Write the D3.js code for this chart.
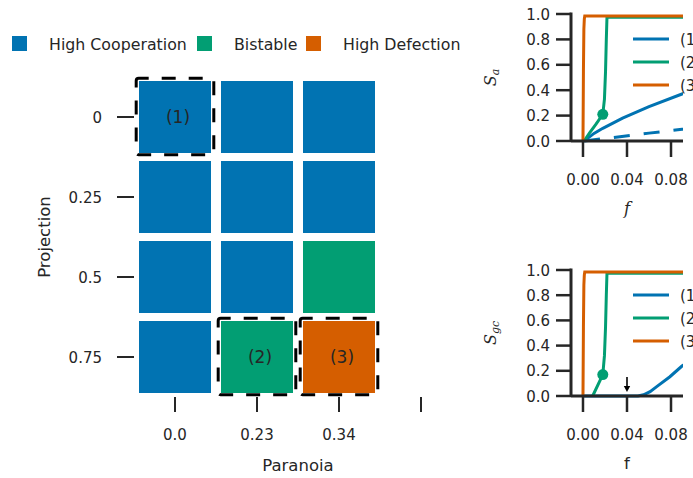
<!DOCTYPE html>
<html>
<head>
<meta charset="utf-8">
<script src="https://cdn.jsdelivr.net/npm/d3@7"></script>
<style>
  body { margin: 0; background: #fff; overflow: hidden; }
  svg { font-family: 'DejaVu Sans', sans-serif; display: block; }
  text { fill: #262626; }
</style>
</head>
<body>
<svg id="chart" width="693" height="478"></svg>
<script>
const paranoia = ['0.0', '0.23', '0.34', ''];
const projection = ['0', '0.25', '0.5', '0.75'];
const regimes = ['High Cooperation', 'Bistable', 'High Defection'];
const colors = ['#0173b2', '#029e73', '#d55e00'];

// regime index per cell, rows = projection, cols = paranoia
const grid = [
  [0, 0, 0],
  [0, 0, 0],
  [0, 0, 1],
  [0, 1, 2],
];
const marked = [
  { row: 0, col: 0, label: '(1)' },
  { row: 3, col: 1, label: '(2)' },
  { row: 3, col: 2, label: '(3)' },
];

// f sweeps for the three marked cells
const fOrange = [0, 0.0004, 0.0008, 0.0012, 0.0016, 0.1];
const saOrange = [0, 0.55, 0.88, 0.96, 0.984, 0.984];
const fGreenA = [0.001, 0.006, 0.012, 0.018, 0.0195, 0.0205, 0.0212, 0.0218, 0.1];
const saGreen = [0, 0.065, 0.135, 0.21, 0.33, 0.55, 0.8, 0.975, 0.975];
const fBlueA = [0.001, 0.01, 0.018, 0.036, 0.06, 0.09, 0.1];
const saBlue = [0, 0.06, 0.1, 0.18, 0.27, 0.37, 0.4];
const fBlueDash = [0.001, 0.03, 0.06, 0.09, 0.1];
const saBlueDash = [0, 0.03, 0.062, 0.092, 0.1];
const dotA = { f: 0.018, s: 0.21 };

const fGreenG = [0.0088, 0.018, 0.0195, 0.0205, 0.0212, 0.0218, 0.1];
const sgcGreen = [0, 0.17, 0.32, 0.55, 0.8, 0.975, 0.975];
const fBlueG = [0.001, 0.05, 0.055, 0.061, 0.067, 0.079, 0.09, 0.1];
const sgcBlue = [0, 0, 0.01, 0.034, 0.074, 0.153, 0.238, 0.3];
const dotG = { f: 0.018, s: 0.17 };
const arrowF = 0.04;

const fTicks = [0, 0.04, 0.08];
const sTicks = [0, 0.2, 0.4, 0.6, 0.8, 1.0];
const curveLabels = ['(1)', '(2)', '(3)'];

const svg = d3.select('#chart');
const ink = '#262626';

// ---- legend on top ----
const legendX = [12, 197, 306];
const lg = svg.append('g').selectAll('g').data(regimes).enter().append('g')
  .attr('transform', (d, i) => `translate(${legendX[i]},36)`);
lg.append('rect').attr('width', 15).attr('height', 15).attr('fill', (d, i) => colors[i]);
lg.append('text').attr('x', 37).attr('y', 14).style('font-size', '15.8px').text(d => d);

// ---- heatmap ----
const x = d3.scaleBand().domain(paranoia).range([134, 462]);
const y = d3.scaleBand().domain(projection).range([77, 397]);
const cell = 72;
const cx = i => x(paranoia[i]) + x.bandwidth() / 2;
const cy = j => y(projection[j]) + y.bandwidth() / 2;

// dashed frames go under the cells, like in the original
svg.append('g').selectAll('rect').data(marked).enter().append('rect')
  .attr('x', d => cx(d.col) - cell / 2 - 2.8)
  .attr('y', d => cy(d.row) - cell / 2 - 2.8)
  .attr('width', cell + 5.6).attr('height', cell + 4.6)
  .attr('rx', 2.5)
  .attr('fill', 'none').attr('stroke', '#000').attr('stroke-width', 3)
  .attr('stroke-dasharray', '14,13').attr('stroke-dashoffset', 4);

const cells = [];
grid.forEach((row, j) => row.forEach((v, i) => cells.push({ i, j, v })));
svg.append('g').selectAll('rect').data(cells).enter().append('rect')
  .attr('x', d => cx(d.i) - cell / 2)
  .attr('y', d => cy(d.j) - cell / 2)
  .attr('width', cell).attr('height', cell)
  .attr('fill', d => colors[d.v]);

svg.append('g').selectAll('text').data(marked).enter().append('text')
  .attr('x', d => cx(d.col) + 3).attr('y', d => cy(d.row) + 6)
  .attr('text-anchor', 'middle').style('font-size', '17px')
  .text(d => d.label);

const xt = svg.append('g').selectAll('g').data(paranoia).enter().append('g');
xt.append('line')
  .attr('x1', (d, i) => cx(i)).attr('x2', (d, i) => cx(i))
  .attr('y1', 397).attr('y2', 412).attr('stroke', ink).attr('stroke-width', 2);
xt.append('text').attr('x', (d, i) => cx(i)).attr('y', 440)
  .attr('text-anchor', 'middle').style('font-size', '15px').text(d => d);

const yt = svg.append('g').selectAll('g').data(projection).enter().append('g');
yt.append('line')
  .attr('x1', 117).attr('x2', 134)
  .attr('y1', (d, j) => cy(j)).attr('y2', (d, j) => cy(j))
  .attr('stroke', ink).attr('stroke-width', 2);
yt.append('text').attr('x', 102).attr('y', (d, j) => cy(j) + 5.5)
  .attr('text-anchor', 'end').style('font-size', '15px').text(d => d);

svg.append('text').attr('x', 298).attr('y', 471).attr('text-anchor', 'middle')
  .style('font-size', '16.5px').text('Paranoia');
svg.append('text').attr('transform', 'translate(50,237) rotate(-90)')
  .attr('text-anchor', 'middle').style('font-size', '16.5px').text('Projection');

// ---- right line panels ----
function panel(top, bottom, series, dot, sub, xlabelItalic, arrow) {
  const g = svg.append('g');
  const fx = d3.scaleLinear().domain([-0.0109, 0.0909]).range([571, 683]);
  const sy = d3.scaleLinear().domain([0, 1]).range([bottom, top]);

  const clipId = 'clip' + top;
  g.append('clipPath').attr('id', clipId).append('rect')
    .attr('x', 571).attr('y', top - 10).attr('width', 112).attr('height', bottom - top + 20);

  const line = d3.line().x(d => fx(d[0])).y(d => sy(d[1]));
  const plot = g.append('g').attr('clip-path', `url(#${clipId})`);
  series.forEach(s => {
    plot.append('path')
      .attr('d', line(s.f.map((v, k) => [v, s.s[k]])))
      .attr('fill', 'none').attr('stroke', s.c).attr('stroke-width', 3)
      .attr('stroke-dasharray', s.dash || null);
  });
  plot.append('circle').attr('cx', fx(dot.f)).attr('cy', sy(dot.s)).attr('r', 5.5)
    .attr('fill', colors[1]);

  if (arrow !== undefined) {
    const ax = fx(arrow);
    g.append('line').attr('x1', ax).attr('x2', ax).attr('y1', bottom - 19).attr('y2', bottom - 9)
      .attr('stroke', '#000').attr('stroke-width', 1.6);
    g.append('path')
      .attr('d', `M${ax - 3.2},${bottom - 10}L${ax + 3.2},${bottom - 10}L${ax},${bottom - 4}Z`)
      .attr('fill', '#000');
  }

  // spines
  g.append('line').attr('x1', 571).attr('x2', 571).attr('y1', top - 1.5).attr('y2', bottom)
    .attr('stroke', ink).attr('stroke-width', 3);
  g.append('line').attr('x1', 571).attr('x2', 683).attr('y1', bottom).attr('y2', bottom)
    .attr('stroke', ink).attr('stroke-width', 3);

  const xa = g.append('g').selectAll('g').data(fTicks).enter().append('g');
  xa.append('line').attr('x1', d => fx(d)).attr('x2', d => fx(d))
    .attr('y1', bottom).attr('y2', bottom + 16).attr('stroke', ink).attr('stroke-width', 2.5);
  xa.append('text').attr('x', d => fx(d)).attr('y', bottom + 44)
    .attr('text-anchor', 'middle').style('font-size', '15px').text(d3.format('.2f'));

  const ya = g.append('g').selectAll('g').data(sTicks).enter().append('g');
  ya.append('line').attr('x1', 556).attr('x2', 571)
    .attr('y1', d => sy(d)).attr('y2', d => sy(d)).attr('stroke', ink).attr('stroke-width', 2.5);
  ya.append('text').attr('x', 550).attr('y', d => sy(d) + 5.5)
    .attr('text-anchor', 'end').style('font-size', '15px').text(d3.format('.1f'));

  const xl = g.append('text').attr('x', 627).attr('y', bottom + 73)
    .attr('text-anchor', 'middle').style('font-size', '16.5px').text('f');
  if (xlabelItalic) xl.style('font-family', "'DejaVu Serif', serif").style('font-style', 'italic');

  const yl = g.append('text')
    .attr('transform', `translate(496,${(top + bottom) / 2}) rotate(-90)`)
    .attr('text-anchor', 'middle')
    .style('font-family', "'DejaVu Serif', serif").style('font-style', 'italic')
    .style('font-size', '16px');
  yl.append('tspan').text('S');
  yl.append('tspan').attr('baseline-shift', '-25%').style('font-size', '11px').text(sub);

  // legend
  const leg = g.append('g').selectAll('g').data(curveLabels).enter().append('g')
    .attr('transform', (d, i) => `translate(633,${top + 25 + i * 23})`);
  leg.append('line').attr('x1', 0).attr('x2', 36).attr('stroke', (d, i) => colors[i])
    .attr('stroke-width', 3);
  leg.append('text').attr('x', 47).attr('y', 5.5).style('font-size', '15px').text(d => d);
}

panel(14, 141, [
  { f: fBlueDash, s: saBlueDash, c: colors[0], dash: '16,14' },
  { f: fBlueA, s: saBlue, c: colors[0] },
  { f: fGreenA, s: saGreen, c: colors[1] },
  { f: fOrange, s: saOrange, c: colors[2] },
], dotA, 'a', true);

panel(270, 396, [
  { f: fBlueG, s: sgcBlue, c: colors[0] },
  { f: fGreenG, s: sgcGreen, c: colors[1] },
  { f: fOrange, s: saOrange, c: colors[2] },
], dotG, 'gc', false, arrowF);
</script>
</body>
</html>
